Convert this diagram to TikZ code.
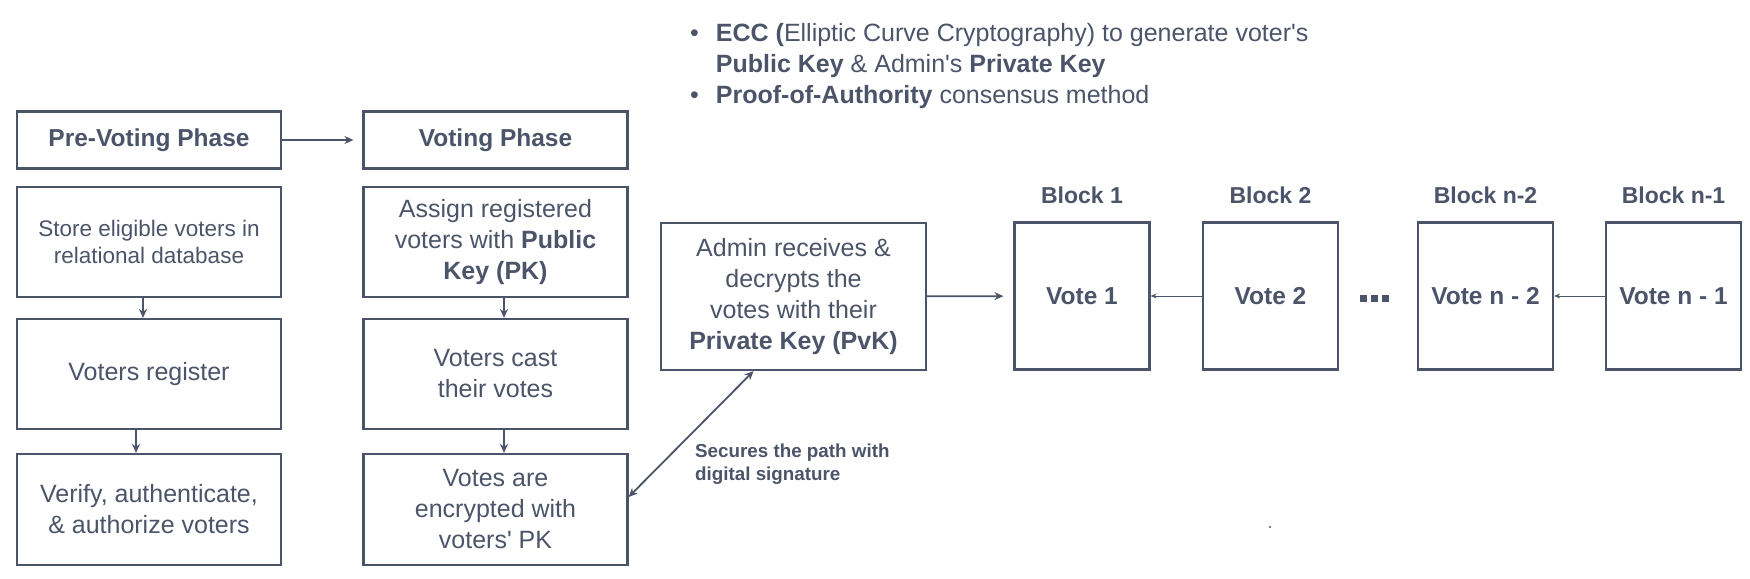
\documentclass[tikz,border=0pt]{standalone}
\usepackage{fontspec}
\setmainfont{Liberation Sans}
\usetikzlibrary{arrows.meta}
\definecolor{slate}{HTML}{4B5468}

\begin{document}
\begin{tikzpicture}[x=1pt,y=-1pt,
    phase/.style={draw=slate, line width=2.2pt, minimum width=264pt, minimum height=57pt, text=slate, font=\fontsize{24.5}{30}\selectfont\bfseries},
    stage/.style={draw=slate, line width=2.2pt, minimum width=264pt, minimum height=110pt, align=center, text=slate, font=\fontsize{25}{31}\selectfont},
    block/.style={draw=slate, line width=2.2pt, minimum width=135pt, minimum height=147pt, text=slate, font=\fontsize{24.5}{28}\selectfont\bfseries},
    blocktitle/.style={text=slate, font=\fontsize{23}{28}\selectfont\bfseries},
    flow/.style={draw=slate, line width=1.8pt, -{Stealth[length=9pt,width=8pt]}},
    link/.style={draw=slate, line width=1pt, -{Stealth[length=6pt,width=5pt]}}]
            \useasboundingbox (0,0) rectangle (1750,578);
            % notes on top
            \node[anchor=north west, inner sep=0, text=slate, font=\fontsize{25}{31}\selectfont] (notes) at (690,19.5) {\begin{tabular}{@{}l@{\hspace{17pt}}l@{}}
                \textbullet & \textbf{ECC (}Elliptic Curve Cryptography) to generate voter\textquotesingle s\\
                & \textbf{Public Key} \& Admin\textquotesingle s \textbf{Private Key}\\
                \textbullet & \textbf{Proof-of-Authority} consensus method
            \end{tabular}};
            % phases
            \node[phase] (pre) at (149,140) {Pre-Voting Phase};
            \node[phase] (voting) at (495.5,140) {Voting Phase};
            \node[stage, font=\fontsize{22.5}{27}\selectfont] (store) at (149,242) {Store eligible voters in\\relational database};
            \node[stage] (register) at (149,374) {Voters register};
            \node[stage, minimum height=111pt] (verify) at (149,509.5) {Verify, authenticate,\\\& authorize voters};
            \node[stage] (assign) at (495.5,242) {Assign registered\\voters with \textbf{Public}\\\textbf{Key (PK)}};
            \node[stage] (cast) at (495.5,374) {Voters cast\\their votes};
            \node[stage, minimum height=111pt] (encrypt) at (495.5,509.5) {Votes are\\encrypted with\\voters\textquotesingle\ PK};
            \node[stage, minimum width=265pt, minimum height=147pt] (admin) at (793.5,296.5) {Admin receives \&\\decrypts the\\votes with their\\\textbf{Private Key (PvK)}};
            % chain
            \node[block] (b1) at (1082,296) {Vote 1};
            \node[block] (b2) at (1270.5,296) {Vote 2};
            \node[block] (bn2) at (1485.5,296) {Vote n - 2};
            \node[block] (bn1) at (1673.5,296) {Vote n - 1};
            \node[blocktitle] (t1) at (1082,195) {Block 1};
            \node[blocktitle] (t2) at (1270.5,195) {Block 2};
            \node[blocktitle] (tn2) at (1485.5,195) {Block n-2};
            \node[blocktitle] (tn1) at (1673.5,195) {Block n-1};
            \fill[slate] (1360,294.5) rectangle (1367,301.5);
            \fill[slate] (1371,294.5) rectangle (1378,301.5);
            \fill[slate] (1382,294.5) rectangle (1389,301.5);
            \fill[slate] (1270,527) circle (1.2pt);
            % arrows
            \draw[flow, shorten >=9pt] (pre) -- (voting);
            \draw[flow] ([xshift=-6pt]store.south) -- ([xshift=-6pt]register.north);
            \draw[flow] ([xshift=-13pt]register.south) -- ([xshift=-13pt]verify.north);
            \draw[flow] ([xshift=8.5pt]assign.south) -- ([xshift=8.5pt]cast.north);
            \draw[flow] ([xshift=8.5pt]cast.south) -- ([xshift=8.5pt]encrypt.north);
            \draw[flow, shorten >=10pt] (admin) -- (b1);
            \draw[link] (b2) -- (b1);
            \draw[link] (bn1) -- (bn2);
            \draw[flow, {Stealth[length=9pt,width=8pt]}-{Stealth[length=9pt,width=8pt]}] ([yshift=12.5pt]encrypt.east) -- ([xshift=-40pt]admin.south);
            \node[anchor=north west, inner sep=0, align=left, text=slate, font=\fontsize{18.8}{23}\selectfont\bfseries] (sig) at (695,444) {Secures the path with\\digital signature};
        \end{tikzpicture}
\end{document}
